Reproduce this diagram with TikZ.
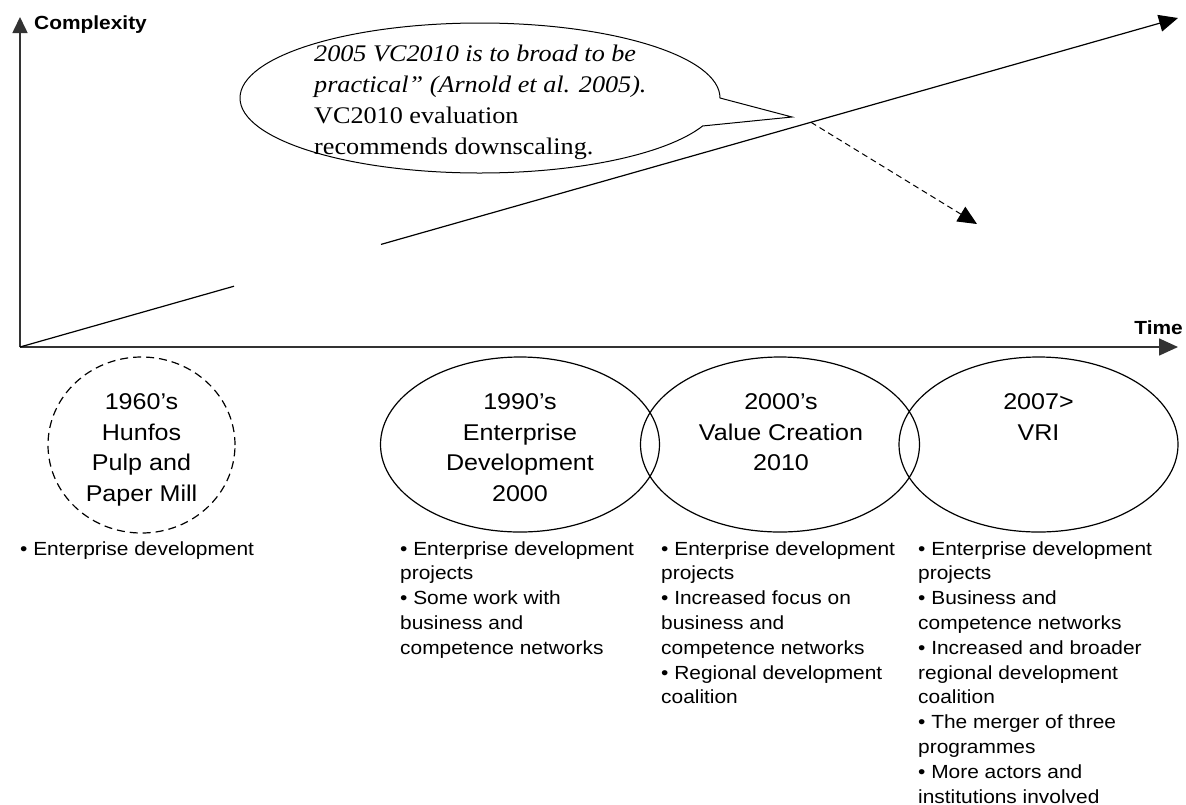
\documentclass[tikz,border=0pt]{standalone}
\usepackage{fontspec}
\setmainfont{Liberation Sans}[FakeStretch=1.1]
\newfontfamily\quotefont{Liberation Serif}[FakeStretch=1.1]
\usetikzlibrary{arrows.meta,shapes.geometric}

\begin{document}
\begin{tikzpicture}[x=1pt,y=-1pt,
  head/.style={-{Triangle[length=19pt,width=17pt]}},
  axis/.style={line width=1.6pt, draw=black!80},
  trend/.style={line width=1.2pt},
  era/.style={ellipse, draw, line width=1.2pt, inner sep=0pt,
    minimum width=279pt, minimum height=175pt},
  eralabel/.style={anchor=north, inner sep=0pt, align=center,
    font=\fontsize{22.8pt}{30.5pt}\selectfont},
  bullets/.style={anchor=north west, inner sep=0pt, align=left,
    font=\fontsize{19pt}{24.8pt}\selectfont},
  axislabel/.style={inner sep=0pt, font=\fontsize{19pt}{22pt}\selectfont\bfseries},
  quotetext/.style={anchor=north west, inner sep=0pt, align=left,
    font=\quotefont\fontsize{23.8pt}{31.2pt}\selectfont},
]
\useasboundingbox (0,0) rectangle (1186,804);

% axes
\coordinate (origin) at (20,347);
\coordinate (ytop) at (20,17);
\coordinate (xend) at (1178,347);
\draw[axis, -{Triangle[length=16pt,width=15pt]}] (origin) -- (ytop);
\draw[axis, head] (origin) -- (xend);
\node[axislabel, anchor=base west] (ylab) at (34,29) {Complexity};
\node[axislabel, anchor=base east] (xlab) at (1183,334) {Time};

% growth line, interrupted between the two eras
\coordinate (gapL) at (234,286.2);
\coordinate (gapR) at (381,244.4);
\coordinate (fork) at (811,122.3);
\coordinate (trendend) at (1178,18);
\coordinate (down) at (977,224);
\draw[trend] (origin) -- (gapL);
\draw[trend, head] (gapR) -- (trendend);
\draw[line width=1pt, dash pattern=on 6pt off 4pt, head] (fork) -- (down);

% speech bubble
\coordinate (bubbleR) at (720,98);
\coordinate (bubbleTip) at (792,117);
\draw[line width=1pt] (bubbleR)
  arc[start angle=0, end angle=-338.1, x radius=240, y radius=75]
  -- (bubbleTip) -- cycle;
\node[quotetext] (quote) at (314,44.5)
  {{\itshape 2005 VC2010 is to broad to be}\\
   {\itshape practical” (Arnold et al. 2005).}\\
   VC2010 evaluation\\
   recommends downscaling.};

% eras
\node[era, minimum width=187pt, minimum height=176pt,
      dash pattern=on 8pt off 5pt] (mill) at (141.5,445) {};
\node[era] (ed) at (520,444.5) {};
\node[era] (vc) at (780,444.5) {};
\node[era] (vri) at (1038.5,444.5) {};

\node[eralabel] (millt) at (141.5,393.6) {1960’s\\Hunfos\\Pulp and\\Paper Mill};
\node[eralabel] (edt) at (520,393.6) {1990’s\\Enterprise\\Development\\2000};
\node[eralabel] (vct) at (781,393.6) {2000’s\\Value Creation\\2010};
\node[eralabel] (vrit) at (1038.5,393.6) {2007>\\VRI};

% activities of each era
\node[bullets] (millb) at (20,541.2) {• Enterprise development};
\node[bullets] (edb) at (400,541.2)
  {• Enterprise development\\projects\\• Some work with\\business and\\competence networks};
\node[bullets] (vcb) at (661,541.2)
  {• Enterprise development\\projects\\• Increased focus on\\business and\\competence networks\\• Regional development\\coalition};
\node[bullets] (vrib) at (918,541.2)
  {• Enterprise development\\projects\\• Business and\\competence networks\\• Increased and broader\\regional development\\coalition\\• The merger of three\\programmes\\• More actors and\\institutions involved};
\end{tikzpicture}
\end{document}
